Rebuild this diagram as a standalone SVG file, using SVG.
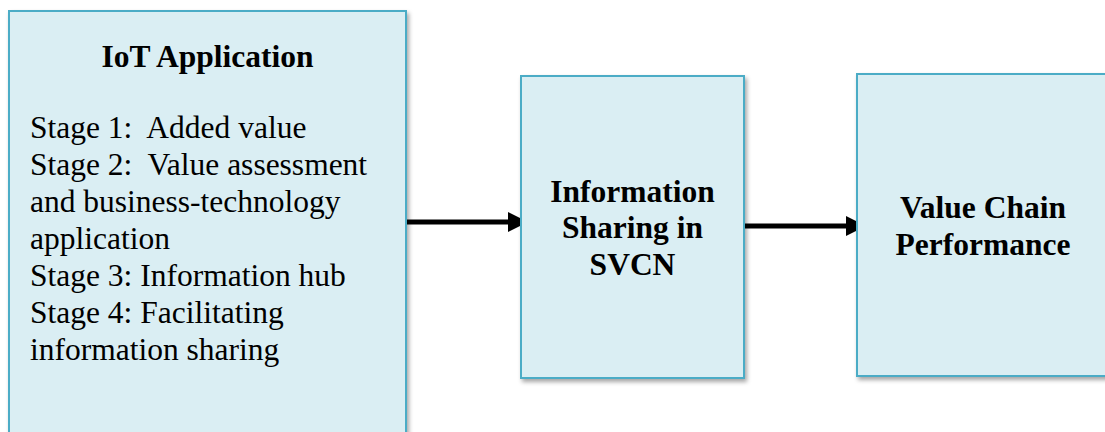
<svg xmlns="http://www.w3.org/2000/svg" width="1105" height="432" viewBox="0 0 1105 432">
  <defs>
    <filter id="shadow" x="-10%" y="-10%" width="125%" height="125%">
      <feDropShadow dx="2" dy="3" stdDeviation="2" flood-color="#000" flood-opacity="0.35"/>
    </filter>
    <marker id="arrowhead" viewBox="0 0 20 20" refX="19" refY="10" markerWidth="20" markerHeight="20" markerUnits="userSpaceOnUse" orient="auto">
      <path d="M0,0 L20,10 L0,20 Z" fill="#000"/>
    </marker>
  </defs>
  <style>
    .box { fill: #DAEEF3; stroke: #4BACC6; stroke-width: 2; filter: url(#shadow); }
    .title { font-family: "Liberation Serif", "Times New Roman", serif; font-weight: bold; font-size: 31.5px; fill: #000; text-anchor: middle; }
    .body { font-family: "Liberation Serif", "Times New Roman", serif; font-size: 31.5px; fill: #000; white-space: pre; }
    .link { stroke: #000; stroke-width: 5; fill: none; marker-end: url(#arrowhead); }
  </style>
  <rect width="1105" height="432" fill="#fff"/>

  <g id="connectors">
    <line class="link" x1="403" y1="222" x2="527" y2="222"/>
    <line class="link" x1="742" y1="226" x2="865" y2="226"/>
  </g>

  <g id="iot-application">
    <rect class="box" x="9" y="11" width="397" height="440"/>
    <text class="title" x="207.5" y="67">IoT Application</text>
    <text class="body" x="30" y="138">Stage 1:  Added value</text>
    <text class="body" x="30" y="175">Stage 2:  Value assessment</text>
    <text class="body" x="30" y="212">and business-technology</text>
    <text class="body" x="30" y="249">application</text>
    <text class="body" x="30" y="286">Stage 3: Information hub</text>
    <text class="body" x="30" y="323">Stage 4: Facilitating</text>
    <text class="body" x="30" y="360">information sharing</text>
  </g>

  <g id="information-sharing">
    <rect class="box" x="521" y="76" width="223" height="302"/>
    <text class="title" x="632.5" y="202">Information</text>
    <text class="title" x="632.5" y="238">Sharing in</text>
    <text class="title" x="632.5" y="275">SVCN</text>
  </g>

  <g id="value-chain-performance">
    <rect class="box" x="857" y="74" width="253" height="302"/>
    <text class="title" x="983" y="218">Value Chain</text>
    <text class="title" x="983" y="255">Performance</text>
  </g>
</svg>
